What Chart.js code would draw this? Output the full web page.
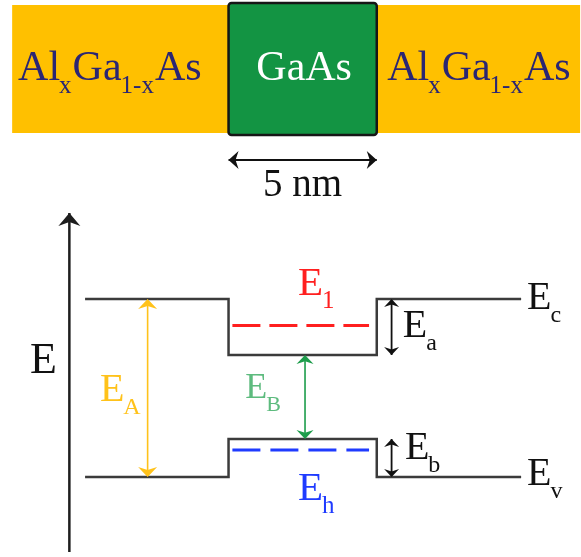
<!DOCTYPE html>
<html>
<head>
<meta charset="utf-8">
<script src="https://cdn.jsdelivr.net/npm/chart.js@4/dist/chart.umd.min.js"></script>
<style>
  html, body { margin: 0; padding: 0; background: #fff; }
  canvas { display: block; }
</style>
</head>
<body>
<canvas id="c" width="581" height="557" style="width:581px;height:557px"></canvas>
<script>
// Heterostructure AlxGa1-xAs / GaAs / AlxGa1-xAs, growth position in nm
const layerEdges = [-7.3, 0, 5, 11.86];
const wellWidthNm = 5;

// Band-edge profile: sample positions (nm) and energies (arb. units)
const bandX = [-4.84, 0, 0, 5, 5, 9.87];
const conductionBand = [25.8, 25.8, 20.2, 20.2, 25.8, 25.8];
const valenceBand = [8.0, 8.0, 11.8, 11.8, 8.0, 8.0];

// Confined levels inside the well
const levelX = [0.13, 4.74];
const electronLevel = 23.15; // E1
const holeLevel = 10.7;      // Eh

// Energy axis extent
const axisX = -5.37;
const axisRange = [0.5, 34.4];

// --- layout (positions in the same nm / energy units) ---
const stripY = [42.4, 55.2];
const wellBoxY = [42.2, 55.4];
const widthArrowY = 39.7;
const gapArrowX = -2.73;    // E_A
const wellGapArrowX = 2.58; // E_B
const offsetArrowX = 5.5;   // E_a, E_b

const COL = {
  band: '#3b3b3b', axis: '#1e1e1e', orange: '#FFC000', green: '#139443',
  navy: '#2b2673', red: '#FF1F1F', blue: '#1F3BFF', yellow: '#FFC21A',
  greenArrow: '#1E9D4C', greenText: '#5DBB7E'
};
const SERIF = '"Liberation Serif", "Times New Roman", "DejaVu Serif", serif';

function seg(xs, ys) { return xs.map((v, i) => ({ x: v, y: ys[i] })); }

const datasets = [
  { label: 'Ec', data: seg(bandX, conductionBand), borderColor: COL.band, borderWidth: 2.5 },
  { label: 'Ev', data: seg(bandX, valenceBand), borderColor: COL.band, borderWidth: 2.5 },
  { label: 'E1', data: seg(levelX, [electronLevel, electronLevel]), borderColor: COL.red, borderWidth: 3, borderDash: [28, 9] },
  { label: 'Eh', data: seg(levelX, [holeLevel, holeLevel]), borderColor: COL.blue, borderWidth: 3, borderDash: [28, 10] },
  { label: 'axis', data: seg([axisX, axisX], axisRange), borderColor: COL.axis, borderWidth: 2.5,
    heads: { end: true, len: 13, width: 22 } },
  { label: 'width', data: seg([layerEdges[1], layerEdges[2]], [widthArrowY, widthArrowY]), borderColor: '#111', borderWidth: 2,
    heads: { start: true, end: true, len: 10, width: 18 } },
  { label: 'EA', data: seg([gapArrowX, gapArrowX], [valenceBand[0], conductionBand[0]]), borderColor: COL.yellow, borderWidth: 1.6,
    heads: { start: true, end: true, len: 10, width: 19 } },
  { label: 'EB', data: seg([wellGapArrowX, wellGapArrowX], [conductionBand[2], valenceBand[2]]), borderColor: COL.greenArrow, borderWidth: 1.6,
    heads: { start: true, end: true, len: 9, width: 17 } },
  { label: 'Ea', data: seg([offsetArrowX, offsetArrowX], [conductionBand[2], conductionBand[4]]), borderColor: '#111', borderWidth: 1.8,
    heads: { start: true, end: true, len: 8, width: 15 } },
  { label: 'Eb', data: seg([offsetArrowX, offsetArrowX], [valenceBand[2], valenceBand[4]]), borderColor: '#111', borderWidth: 1.8,
    heads: { start: true, end: true, len: 8, width: 15 } }
].map(d => Object.assign({ showLine: true, pointRadius: 0, fill: false, tension: 0 }, d));

// Text labels: runs of normal / subscript text, anchored at a baseline point
const labels = [
  { runs: [['Al'], ['x', 1], ['Ga'], ['1-x', 1], ['As']], x: -7.1, y: 47.7, size: 42, color: COL.navy },
  { runs: [['Al'], ['x', 1], ['Ga'], ['1-x', 1], ['As']], x: 5.35, y: 47.7, size: 42, color: COL.navy },
  { runs: [['GaAs']], x: wellWidthNm / 2 + 0.05, y: 47.7, size: 42, color: '#ffffff', align: 'center' },
  { runs: [['5 nm']], x: wellWidthNm / 2, y: 36.1, size: 39, color: '#111', align: 'center' },
  { runs: [['E']], x: -6.7, y: 18.4, size: 44, color: '#111' },
  { runs: [['E'], ['A', 1]], x: -4.34, y: 15.6, size: 40, color: COL.yellow },
  { runs: [['E'], ['B', 1]], x: 0.56, y: 15.9, size: 36, color: COL.greenText },
  { runs: [['E'], ['1', 1]], x: 2.34, y: 26.2, size: 41, color: COL.red },
  { runs: [['E'], ['h', 1]], x: 2.34, y: 5.7, size: 41, color: COL.blue },
  { runs: [['E'], ['a', 1]], x: 5.88, y: 22.0, size: 40, color: '#111' },
  { runs: [['E'], ['b', 1]], x: 5.95, y: 9.8, size: 40, color: '#111' },
  { runs: [['E'], ['c', 1]], x: 10.07, y: 24.8, size: 40, color: '#111' },
  { runs: [['E'], ['v', 1]], x: 10.07, y: 7.2, size: 40, color: '#111' }
];

const layersPlugin = {
  id: 'layers',
  beforeDatasetsDraw(chart) {
    const { ctx, scales: { x, y } } = chart;
    ctx.save();
    const sx0 = x.getPixelForValue(layerEdges[0]);
    const sx3 = x.getPixelForValue(layerEdges[3]);
    const st = y.getPixelForValue(stripY[1]);
    const sb = y.getPixelForValue(stripY[0]);
    ctx.fillStyle = COL.orange;
    ctx.fillRect(sx0, st, sx3 - sx0, sb - st);
    const gx1 = x.getPixelForValue(layerEdges[1]);
    const gx2 = x.getPixelForValue(layerEdges[2]);
    const gt = y.getPixelForValue(wellBoxY[1]);
    const gb = y.getPixelForValue(wellBoxY[0]);
    ctx.beginPath();
    if (ctx.roundRect) ctx.roundRect(gx1, gt, gx2 - gx1, gb - gt, 3);
    else ctx.rect(gx1, gt, gx2 - gx1, gb - gt);
    ctx.fillStyle = COL.green;
    ctx.fill();
    ctx.lineWidth = 2.5;
    ctx.strokeStyle = '#161616';
    ctx.stroke();
    ctx.restore();
  }
};

function drawHead(ctx, px, py, ang, len, w, color) {
  ctx.save();
  ctx.translate(px, py);
  ctx.rotate(ang);
  ctx.beginPath();
  ctx.moveTo(0, 0);
  ctx.lineTo(-len, -w / 2);
  ctx.lineTo(-len * 0.7, 0);
  ctx.lineTo(-len, w / 2);
  ctx.closePath();
  ctx.fillStyle = color;
  ctx.fill();
  ctx.restore();
}

const arrowPlugin = {
  id: 'arrowHeads',
  afterDatasetsDraw(chart) {
    const ctx = chart.ctx;
    chart.data.datasets.forEach((ds, i) => {
      if (!ds.heads) return;
      const pts = chart.getDatasetMeta(i).data;
      const a = pts[0], b = pts[pts.length - 1];
      const ang = Math.atan2(b.y - a.y, b.x - a.x);
      if (ds.heads.end) drawHead(ctx, b.x, b.y, ang, ds.heads.len, ds.heads.width, ds.borderColor);
      if (ds.heads.start) drawHead(ctx, a.x, a.y, ang + Math.PI, ds.heads.len, ds.heads.width, ds.borderColor);
    });
  }
};

const textPlugin = {
  id: 'texts',
  afterDraw(chart) {
    const { ctx, scales: { x, y } } = chart;
    ctx.save();
    ctx.textBaseline = 'alphabetic';
    labels.forEach(l => {
      const subSize = Math.round(l.size * 0.6);
      const pieces = l.runs.map(([t, sub]) => {
        ctx.font = (sub ? subSize : l.size) + 'px ' + SERIF;
        return { t, sub, w: ctx.measureText(t).width };
      });
      const total = pieces.reduce((s, p) => s + p.w, 0);
      let px = x.getPixelForValue(l.x);
      const py = y.getPixelForValue(l.y);
      if (l.align === 'center') px -= total / 2;
      ctx.fillStyle = l.color;
      pieces.forEach(p => {
        ctx.font = (p.sub ? subSize : l.size) + 'px ' + SERIF;
        ctx.fillText(p.t, p.sub ? px - 1 : px, p.sub ? py + 13 : py);
        px += p.w;
      });
    });
    ctx.restore();
  }
};

function build() {
  new Chart(document.getElementById('c'), {
    type: 'scatter',
    data: { datasets },
    options: {
      responsive: false,
      devicePixelRatio: 1,
      animation: false,
      layout: { padding: 0 },
      elements: { line: { borderCapStyle: 'butt', borderJoinStyle: 'miter' } },
      plugins: { legend: { display: false }, tooltip: { enabled: false } },
      scales: {
        x: { type: 'linear', min: -7.71, max: 11.89, display: false },
        y: { type: 'linear', min: 0, max: 55.7, display: false }
      }
    },
    plugins: [layersPlugin, arrowPlugin, textPlugin]
  });
}

// make sure the serif face is ready before the canvas text is painted
const fontReady = document.fonts && document.fonts.load
  ? Promise.all([document.fonts.load('40px "Liberation Serif"'), document.fonts.load('24px "Liberation Serif"')]).catch(() => {})
  : Promise.resolve();
fontReady.then(build, build);
</script>
</body>
</html>
